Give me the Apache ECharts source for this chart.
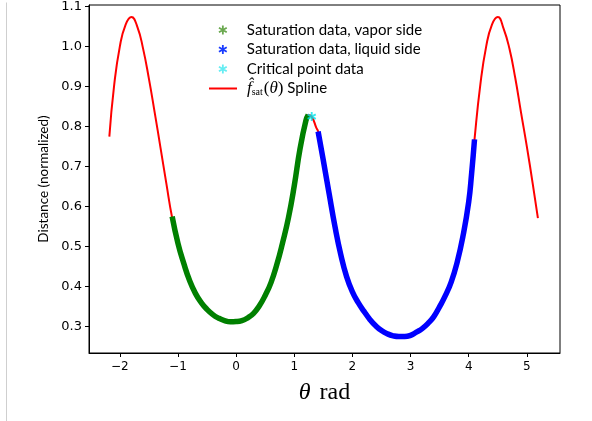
<!DOCTYPE html>
<html>
<head>
<meta charset="utf-8">
<script src="https://cdn.jsdelivr.net/npm/echarts@6/dist/echarts.min.js"></script>
<style>
  html, body { margin: 0; padding: 0; background: #fff; }
  #chart { width: 592px; height: 421px; }
</style>
</head>
<body>
<div id="chart"></div>
<script>
// theta (rad) / normalized distance
var vaporTheta = [-1.1, -1.0, -0.9, -0.8, -0.7, -0.6, -0.5, -0.4, -0.3, -0.2, -0.1, 0.0, 0.1, 0.2, 0.3, 0.4, 0.5, 0.6, 0.7, 0.8, 0.9, 1.0, 1.1, 1.2, 1.24];
var vaporDist = [0.575, 0.508, 0.458, 0.415, 0.383, 0.36, 0.343, 0.33, 0.321, 0.315, 0.312, 0.3125, 0.315, 0.322, 0.333, 0.352, 0.378, 0.41, 0.455, 0.51, 0.572, 0.652, 0.745, 0.815, 0.829];

var liquidTheta = [1.41, 1.5, 1.6, 1.7, 1.8, 1.9, 2.0, 2.1, 2.2, 2.3, 2.4, 2.5, 2.6, 2.7, 2.8, 2.9, 3.0, 3.1, 3.2, 3.3, 3.4, 3.5, 3.6, 3.7, 3.8, 3.9, 4.0, 4.05, 4.1];
var liquidDist = [0.788, 0.715, 0.632, 0.55, 0.48, 0.425, 0.387, 0.36, 0.338, 0.318, 0.302, 0.29, 0.282, 0.277, 0.275, 0.275, 0.278, 0.286, 0.295, 0.308, 0.325, 0.35, 0.378, 0.412, 0.46, 0.525, 0.612, 0.683, 0.768];

var criticalTheta = [1.30];
var criticalDist = [0.825];

var splineTheta = [-2.18, -2.1, -2.0, -1.9, -1.8, -1.7, -1.6, -1.5, -1.4, -1.3, -1.2, -1.1, -1.0, -0.9, -0.8, -0.7, -0.6, -0.5, -0.4, -0.3, -0.2, -0.1, 0.0, 0.1, 0.2, 0.3, 0.4, 0.5, 0.6, 0.7, 0.8, 0.9, 1.0, 1.1, 1.2, 1.24, 1.3, 1.38, 1.41, 1.5, 1.6, 1.7, 1.8, 1.9, 2.0, 2.1, 2.2, 2.3, 2.4, 2.5, 2.6, 2.7, 2.8, 2.9, 3.0, 3.1, 3.2, 3.3, 3.4, 3.5, 3.6, 3.7, 3.8, 3.9, 4.0, 4.05, 4.1, 4.2, 4.3, 4.4, 4.5, 4.6, 4.7, 4.8, 4.9, 5.0, 5.1, 5.19];
var splineDist = [0.775, 0.9, 1.0, 1.055, 1.074, 1.05, 0.995, 0.92, 0.835, 0.747, 0.658, 0.572, 0.508, 0.458, 0.415, 0.383, 0.36, 0.343, 0.33, 0.321, 0.315, 0.312, 0.3125, 0.315, 0.322, 0.333, 0.352, 0.378, 0.41, 0.455, 0.51, 0.572, 0.652, 0.745, 0.815, 0.829, 0.825, 0.797, 0.788, 0.715, 0.632, 0.55, 0.48, 0.425, 0.387, 0.36, 0.338, 0.318, 0.302, 0.29, 0.282, 0.277, 0.275, 0.275, 0.278, 0.286, 0.295, 0.308, 0.325, 0.35, 0.378, 0.412, 0.46, 0.525, 0.612, 0.683, 0.768, 0.905, 1.0, 1.055, 1.074, 1.045, 0.995, 0.922, 0.835, 0.75, 0.658, 0.571];

var xTicks = [-2, -1, 0, 1, 2, 3, 4, 5];
var yTicks = [0.3, 0.4, 0.5, 0.6, 0.7, 0.8, 0.9, 1.0, 1.1];

var legendNames = ['Saturation data, vapor side', 'Saturation data, liquid side', 'Critical point data', 'spline'];

function pairs(xs, ys) {
    var out = [];
    for (var i = 0; i < xs.length; i++) out.push([xs[i], ys[i]]);
    return out;
}

// six-armed asterisk like the matplotlib '*' marker at this size
var STAR = 'path://M-1,-5L1,-5L1,5L-1,5Z' +
    'M-4.83,-1.634L-3.83,-3.366L4.83,1.634L3.83,3.366Z' +
    'M-3.83,3.366L-4.83,1.634L3.83,-3.366L4.83,-1.634Z';

var chart = echarts.init(document.getElementById('chart'), null, { renderer: 'canvas' });

var TICK_FONT = 'DejaVu Sans';
var LEGEND_FONT = 'Lato';

// one legend block per row, so each row sits where the reference has it
function legendAt(name, left, top, icon, color, w, h, gap) {
    return {
        data: [{ name: name, icon: icon, itemStyle: { color: color } }],
        orient: 'vertical',
        left: left,
        top: top,
        padding: 0,
        itemWidth: w,
        itemHeight: h,
        symbolKeepAspect: true,
        selectedMode: false,
        formatter: function (n) {
            if (n === 'spline') return '{g|}{f|f\u0302}{s|sat}{p|(}{t|\u03b8}{p|)} Spline';
            return '{g|}' + n;
        },
        textStyle: {
            fontFamily: LEGEND_FONT, fontSize: 15, color: '#000', lineHeight: 17,
            rich: {
                g: { width: gap, lineHeight: 17 },
                f: { fontFamily: 'Liberation Serif', fontStyle: 'italic', fontSize: 17, lineHeight: 17 },
                s: { fontFamily: 'Liberation Serif', fontSize: 10, lineHeight: 17, verticalAlign: 'bottom', padding: [6, 1, 0, 0] },
                p: { fontFamily: 'Liberation Serif', fontSize: 17, lineHeight: 17 },
                t: { fontFamily: 'Liberation Serif', fontStyle: 'italic', fontSize: 17, lineHeight: 17 }
            }
        }
    };
}

var option = {
    animation: false,
    backgroundColor: '#fff',
    grid: {
        left: 89, right: 32, top: 5, bottom: 68,
        outerBoundsMode: 'none',
        show: true, borderColor: '#000', borderWidth: 1
    },
    legend: [
        legendAt(legendNames[0], 218.5, 21.5, STAR, '#6aa84f', 9, 9, 14.5),
        legendAt(legendNames[1], 218.5, 41, STAR, '#1a3cff', 9, 9, 14.5),
        legendAt(legendNames[2], 218.5, 60.5, STAR, '#3ee8f0', 9, 9, 14.5),
        legendAt(legendNames[3], 209, 80, 'rect', '#ff0000', 28, 2, 5)
    ],
    xAxis: {
        type: 'value', min: -2.53, max: 5.57,
        name: '{i|\u03b8}{r|rad}',
        nameLocation: 'middle', nameGap: 28,
        nameTextStyle: {
            color: '#000', verticalAlign: 'top',
            rich: {
                i: { fontFamily: 'Liberation Serif', fontStyle: 'italic', fontSize: 24 },
                r: { fontFamily: 'Liberation Serif', fontSize: 24, padding: [0, 0, 0, 9] }
            }
        },
        splitLine: { show: false },
        axisLine: { show: true, onZero: false, lineStyle: { color: '#000', width: 1 } },
        axisTick: { show: true, length: 4, customValues: xTicks, lineStyle: { color: '#000' } },
        axisLabel: {
            customValues: xTicks, margin: 8, color: '#000',
            fontFamily: TICK_FONT, fontSize: 12,
            formatter: function (v) { return v < 0 ? '\u2212' + Math.abs(v) : String(v); }
        }
    },
    yAxis: {
        type: 'value', min: 0.234, max: 1.104,
        name: 'Distance (normalized)',
        nameLocation: 'middle', nameGap: 37,
        nameTextStyle: { color: '#000', fontFamily: LEGEND_FONT, fontSize: 13.5 },
        splitLine: { show: false },
        axisLine: { show: true, onZero: false, lineStyle: { color: '#000', width: 1 } },
        axisTick: { show: true, length: 4, customValues: yTicks, lineStyle: { color: '#000' } },
        axisLabel: {
            customValues: yTicks, margin: 7, color: '#000',
            fontFamily: TICK_FONT, fontSize: 13,
            formatter: function (v) { return v.toFixed(1); }
        }
    },
    graphic: [{
        type: 'line', left: 4, top: 0,
        shape: { x1: 0, y1: 0, x2: 0, y2: 421 },
        style: { stroke: '#cfcfcf', lineWidth: 1 }
    }],
    series: [
        {
            name: 'spline', type: 'line', data: pairs(splineTheta, splineDist),
            smooth: 0.5, showSymbol: false, symbol: 'none',
            lineStyle: { color: '#ff0000', width: 2 }, itemStyle: { color: '#ff0000' }, z: 2
        },
        {
            name: legendNames[0], type: 'line', data: pairs(vaporTheta, vaporDist),
            smooth: 0.5, showSymbol: false, symbol: 'none',
            lineStyle: { color: '#008000', width: 5.5 }, itemStyle: { color: '#008000' }, z: 3
        },
        {
            name: legendNames[1], type: 'line', data: pairs(liquidTheta, liquidDist),
            smooth: 0.5, showSymbol: false, symbol: 'none',
            lineStyle: { color: '#0000ff', width: 5.5 }, itemStyle: { color: '#0000ff' }, z: 3
        },
        {
            name: legendNames[2], type: 'scatter', data: pairs(criticalTheta, criticalDist),
            symbol: STAR, symbolSize: 9, itemStyle: { color: '#00e5ee' }, z: 4
        }
    ]
};

chart.setOption(option);
</script>
</body>
</html>
